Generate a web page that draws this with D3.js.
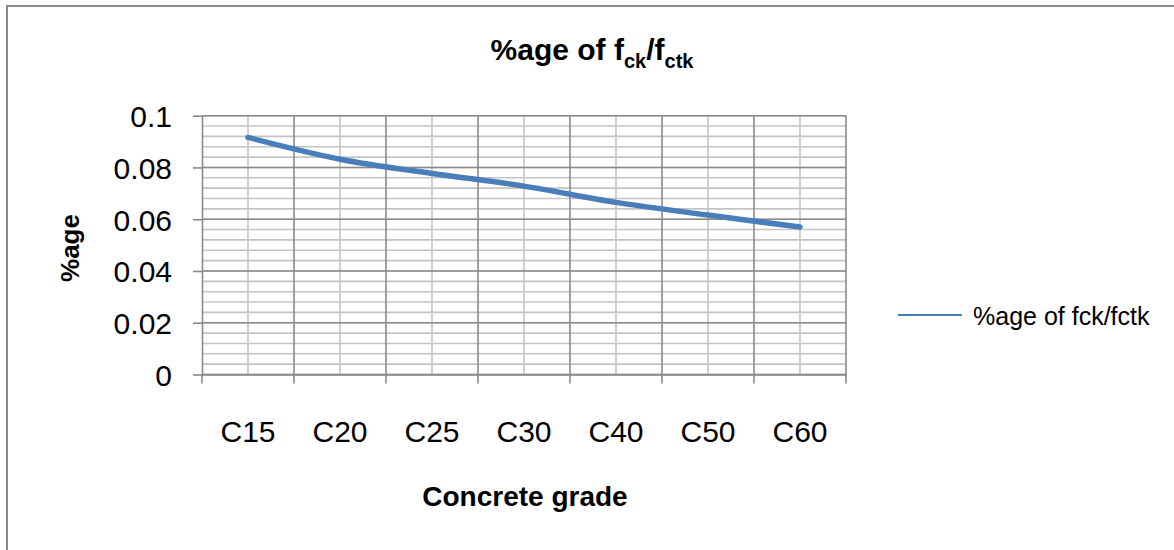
<!DOCTYPE html>
<html>
<head>
  <title>%age of fck/fctk</title>
  <style>
    body {
      margin: 0;
      background: #fff;
    }

    #chart {
      font-family: "Liberation Sans Narrow", "Arial Narrow", Arial, sans-serif;
    }

    .grid-major line {
      stroke: #8a8a8a;
      stroke-width: 1.6;
    }

    .grid-minor line {
      stroke: #c4c4c4;
      stroke-width: 1.6;
    }

    .axis .domain,
    .axis line {
      stroke: #8a8a8a;
      stroke-width: 1.6;
    }

    .axis text {
      font-size: 30px;
      fill: #000;
    }
  </style>
</head>
<body>
  <div id="chart"></div>

  <script src="https://d3js.org/d3.v7.min.js"></script>
  <script>
    // Chart data
    const grades = ["C15", "C20", "C25", "C30", "C40", "C50", "C60"];
    const ratios = [0.0916, 0.0832, 0.0777, 0.0728, 0.0665, 0.0616, 0.0570];
    const yTicks = [0, 0.02, 0.04, 0.06, 0.08, 0.1];
    const yMinorStep = 0.004;
    const seriesName = "%age of fck/fctk";

    const W = 1174, H = 550;
    const plot = { left: 202, right: 846, top: 115.7, bottom: 374.5 };

    const svg = d3.select("#chart")
      .append("svg")
      .attr("width", W)
      .attr("height", H);

    // Outer chart frame
    svg.append("rect")
      .attr("x", 7)
      .attr("y", 6)
      .attr("width", W + 10)
      .attr("height", H + 10)
      .attr("fill", "#fff")
      .attr("stroke", "#8a8a8a")
      .attr("stroke-width", 2);

    // Scales
    const xScale = d3.scaleBand()
      .domain(grades)
      .range([plot.left, plot.right])
      .padding(0);

    const yScale = d3.scaleLinear()
      .domain([0, 0.1])
      .range([plot.bottom, plot.top]);

    const minorY = d3.range(0, 0.1 + 1e-9, yMinorStep);

    // Minor gridlines: horizontal every 0.004, vertical at category centres
    const minor = svg.append("g").attr("class", "grid-minor");
    minor.selectAll(".h")
      .data(minorY)
      .enter()
      .append("line")
      .attr("x1", plot.left)
      .attr("x2", plot.right)
      .attr("y1", d => yScale(d))
      .attr("y2", d => yScale(d));
    minor.selectAll(".v")
      .data(grades)
      .enter()
      .append("line")
      .attr("x1", d => xScale(d) + xScale.bandwidth() / 2)
      .attr("x2", d => xScale(d) + xScale.bandwidth() / 2)
      .attr("y1", plot.top)
      .attr("y2", plot.bottom);

    // Major gridlines: horizontal at ticks, vertical at category boundaries
    const major = svg.append("g").attr("class", "grid-major");
    major.selectAll(".h")
      .data(yTicks)
      .enter()
      .append("line")
      .attr("x1", plot.left)
      .attr("x2", plot.right)
      .attr("y1", d => yScale(d))
      .attr("y2", d => yScale(d));
    major.selectAll(".v")
      .data(grades.slice(1).concat(["end"]))
      .enter()
      .append("line")
      .attr("x1", (d, i) => i < grades.length - 1 ? xScale(d) : plot.right)
      .attr("x2", (d, i) => i < grades.length - 1 ? xScale(d) : plot.right)
      .attr("y1", plot.top)
      .attr("y2", plot.bottom);

    // Y axis
    svg.append("g")
      .attr("class", "axis")
      .attr("transform", "translate(" + plot.left + ",0)")
      .call(d3.axisLeft(yScale)
        .tickValues(yTicks)
        .tickSize(9)
        .tickSizeOuter(0)
        .tickPadding(21)
        .tickFormat(d3.format("~g")))
      .selectAll("text")
      .attr("dy", "0.36em");

    // X axis: labels centred in bands, tick marks at band boundaries
    const xAxis = svg.append("g")
      .attr("class", "axis")
      .attr("transform", "translate(0," + plot.bottom + ")")
      .call(d3.axisBottom(xScale).tickSize(0).tickSizeOuter(0).tickPadding(57));
    xAxis.selectAll(".tick text").attr("dy", "0.36em");
    xAxis.selectAll(".bound")
      .data(grades.concat(["end"]))
      .enter()
      .append("line")
      .attr("x1", (d, i) => i < grades.length ? xScale(d) : plot.right)
      .attr("x2", (d, i) => i < grades.length ? xScale(d) : plot.right)
      .attr("y1", 0)
      .attr("y2", 9);

    // Series line
    const line = d3.line()
      .x((d, i) => xScale(grades[i]) + xScale.bandwidth() / 2)
      .y(d => yScale(d))
      .curve(d3.curveCatmullRom.alpha(0.5));

    svg.append("path")
      .datum(ratios)
      .attr("fill", "none")
      .attr("stroke", "#4a7ebb")
      .attr("stroke-width", 5.5)
      .attr("stroke-linecap", "round")
      .attr("d", line);

    // Title with subscripts
    const title = svg.append("text")
      .attr("x", 592)
      .attr("y", 60)
      .attr("text-anchor", "middle")
      .attr("font-size", 30)
      .attr("font-weight", "bold");
    title.append("tspan").text("%age of f");
    title.append("tspan").attr("font-size", 20).attr("dy", 8).text("ck");
    title.append("tspan").attr("dy", -8).text("/f");
    title.append("tspan").attr("font-size", 20).attr("dy", 8).text("ctk");

    // Axis titles
    svg.append("text")
      .attr("transform", "translate(79,248) rotate(-90)")
      .attr("text-anchor", "middle")
      .attr("font-size", 26)
      .attr("font-weight", "bold")
      .text("%age");

    svg.append("text")
      .attr("x", 525)
      .attr("y", 506)
      .attr("text-anchor", "middle")
      .attr("font-size", 28)
      .attr("font-weight", "bold")
      .text("Concrete grade");

    // Legend
    const legend = svg.append("g").attr("transform", "translate(898,315)");
    legend.append("line")
      .attr("x1", 0)
      .attr("x2", 64)
      .attr("stroke", "#4a7ebb")
      .attr("stroke-width", 2);
    legend.append("text")
      .attr("x", 75)
      .attr("y", 10)
      .attr("font-size", 25)
      .text(seriesName);
  </script>
</body>
</html>
